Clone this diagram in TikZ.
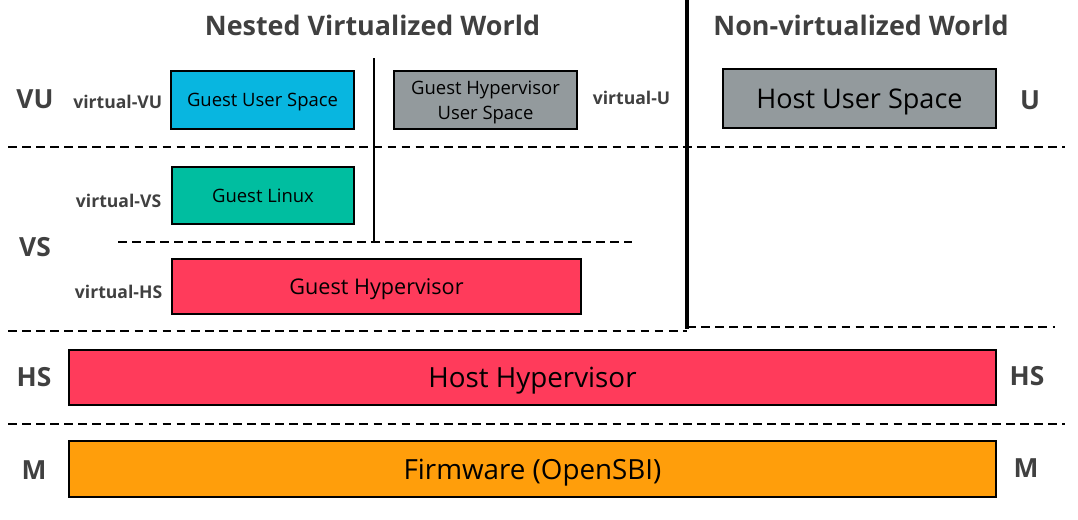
\documentclass[tikz,border=0pt]{standalone}
\usepackage{fontspec}
\setmainfont{Open Sans}
\usepackage{xcolor}
\usetikzlibrary{positioning}
\definecolor{userblue}{RGB}{8,182,224}
\definecolor{linuxgreen}{RGB}{0,190,160}
\definecolor{spacegray}{RGB}{147,154,157}
\definecolor{hyperred}{RGB}{255,59,91}
\definecolor{fworange}{RGB}{255,158,11}
\definecolor{labelgray}{RGB}{64,64,64}

\begin{document}
\begin{tikzpicture}[
        block/.style={draw, rectangle, line width=0.8pt, inner sep=0pt, align=center, text=black, text depth=0pt},
        small/.style={font=\fontsize{10.5}{14.5}\selectfont},
        large/.style={font=\fontsize{15.8}{19}\selectfont},
        level/.style={font=\fontsize{15}{18}\selectfont\bfseries, text=labelgray},
        vlevel/.style={font=\fontsize{10}{12}\selectfont\bfseries, text=labelgray, inner sep=1pt},
        world/.style={font=\fontsize{15.3}{18}\selectfont\bfseries, text=labelgray},
        sep/.style={line width=0.8pt, dash pattern=on 5pt off 3pt}
    ]
        \useasboundingbox (0,0) rectangle (21.56,10.38);

        \node [world] (nvw) at (7.45,9.88) {Nested Virtualized World};
        \node [world] (nonv) at (17.22,9.88) {Non-virtualized World};

        \node [block, small, fill=userblue, minimum width=3.66cm, minimum height=1.16cm] (gus) at (5.25,8.38) {Guest User Space};
        \node [block, small, fill=spacegray, minimum width=3.66cm, minimum height=1.16cm] (ghus) at (9.71,8.38) {Guest Hypervisor\\User Space};
        \node [block, large, fill=spacegray, minimum width=5.46cm, minimum height=1.18cm, font=\fontsize{15.4}{19}\selectfont] (hus) at (17.19,8.41) {Host User Space};
        \node [block, small, fill=linuxgreen, minimum width=3.64cm, minimum height=1.14cm] (gl) at (5.26,6.47) {Guest Linux};
        \node [block, fill=hyperred, minimum width=8.18cm, minimum height=1.10cm, font=\fontsize{12.3}{15}\selectfont] (gh) at (7.53,4.65) {Guest Hypervisor};
        \node [block, large, fill=hyperred, minimum width=18.54cm, minimum height=1.10cm] (hh) at (10.65,2.83) {Host Hypervisor};
        \node [block, large, fill=fworange, minimum width=18.54cm, minimum height=1.12cm] (fw) at (10.65,1.00) {Firmware (OpenSBI)};

        \node [vlevel, left=0.12cm of gus, yshift=-1pt] (vvu) {virtual-VU};
        \node [vlevel, right=0.26cm of ghus, yshift=1pt] (vu) {virtual-U};
        \node [vlevel, left=0.16cm of gl, yshift=-3pt] (vvs) {virtual-VS};
        \node [vlevel, left=0.14cm of gh, yshift=-3pt] (vhs) {virtual-HS};

        \node [level] (lvu) at (0.70,8.40) {VU};
        \node [level] (lvs) at (0.70,5.44) {VS};
        \node [level] (lhs) at (0.68,2.84) {HS};
        \node [level] (lm) at (0.68,0.98) {M};
        \node [level] (ru) at (20.60,8.38) {U};
        \node [level] (rhs) at (20.54,2.86) {HS};
        \node [level] (rm) at (20.52,1.02) {M};

        \draw [line width=2pt] (13.74,10.38) -- (13.74,3.80);
        \draw [line width=1.2pt] (7.48,9.22) -- (7.48,5.54);

        \draw [sep] (0.16,7.44) -- (21.30,7.44);
        \draw [sep] (2.36,5.54) -- (12.64,5.54);
        \draw [sep] (0.16,3.76) -- (13.74,3.76);
        \draw [sep] (13.74,3.84) -- (21.10,3.84);
        \draw [sep] (0.16,1.90) -- (21.30,1.90);
    \end{tikzpicture}
\end{document}
